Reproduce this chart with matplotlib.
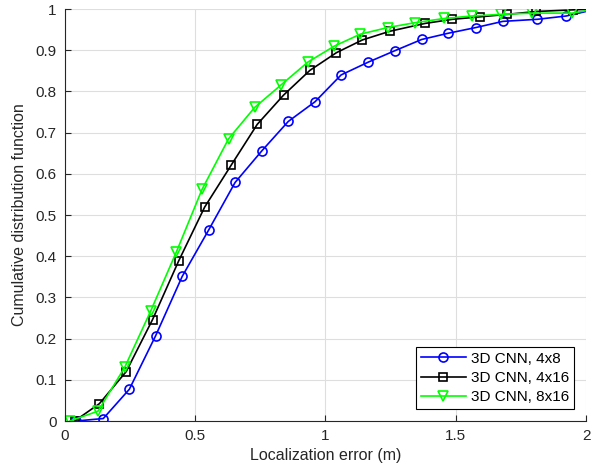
import matplotlib
matplotlib.use("Agg")
import matplotlib.pyplot as plt

plt.rcParams['font.family'] = ['Liberation Sans', 'DejaVu Sans']

# ------------------------
# data (last point of each line has no marker)
# ------------------------
x_4x8 = [0.042, 0.147, 0.247, 0.348, 0.450, 0.551, 0.653, 0.756, 0.857, 0.960,
         1.060, 1.164, 1.267, 1.369, 1.470, 1.577, 1.681, 1.813, 1.924, 2.0]
y_4x8 = [0.0, 0.006, 0.077, 0.207, 0.351, 0.463, 0.579, 0.656, 0.727, 0.775,
         0.840, 0.871, 0.899, 0.926, 0.941, 0.955, 0.970, 0.975, 0.983, 0.994]

x_4x16 = [0.037, 0.132, 0.235, 0.336, 0.436, 0.536, 0.638, 0.738, 0.839, 0.940,
          1.042, 1.142, 1.247, 1.382, 1.487, 1.593, 1.697, 1.809, 1.952, 2.0]
y_4x16 = [0.0, 0.042, 0.120, 0.246, 0.388, 0.519, 0.621, 0.720, 0.791, 0.851,
          0.894, 0.925, 0.946, 0.965, 0.975, 0.981, 0.987, 0.994, 0.998, 0.999]

x_8x16 = [0.019, 0.127, 0.229, 0.329, 0.428, 0.526, 0.628, 0.728, 0.830, 0.932,
          1.034, 1.134, 1.239, 1.345, 1.456, 1.561, 1.675, 1.793, 1.947, 2.0]
y_8x16 = [0.0, 0.024, 0.130, 0.267, 0.411, 0.562, 0.685, 0.761, 0.816, 0.871,
          0.910, 0.939, 0.955, 0.967, 0.977, 0.983, 0.987, 0.990, 0.990, 0.996]

labels = ["3D CNN, 4x8", "3D CNN, 4x16", "3D CNN, 8x16"]

# ------------------------
# plot
# ------------------------
fig = plt.figure(figsize=(6.05, 4.74), dpi=100)
ax = fig.add_axes([0.1074, 0.1118, 0.8612, 0.8692])

ax.plot(x_4x8, y_4x8, color="#0000ff", lw=1.2, marker="o", ms=6.5, mfc="none",
        mew=1.2, markevery=list(range(len(x_4x8) - 1)), label=labels[0])
ax.plot(x_4x16, y_4x16, color="black", lw=1.2, marker="s", ms=5.5, mfc="none",
        mew=1.2, markevery=list(range(len(x_4x16) - 1)), label=labels[1])
ax.plot(x_8x16, y_8x16, color="#00ff00", lw=1.2, marker="v", ms=7, mfc="none",
        mew=1.2, markevery=list(range(len(x_8x16) - 1)), label=labels[2])

ax.set_xlim(0, 2)
ax.set_ylim(0, 1)
ax.set_xticks([0, 0.5, 1, 1.5, 2])
ax.set_xticklabels(["0", "0.5", "1", "1.5", "2"])
ax.set_yticks([i / 10 for i in range(11)])
ax.set_yticklabels(["0"] + [f"{i/10:.1f}" for i in range(1, 10)] + ["1"])

ax.grid(True, color="#dedede", lw=0.8)
ax.set_axisbelow(True)
for s in ["top", "right"]:
    ax.spines[s].set_visible(False)
for s in ["left", "bottom"]:
    ax.spines[s].set_color("#262626")
    ax.spines[s].set_linewidth(0.8)
ax.tick_params(direction="in", length=4, colors="#262626", labelsize=11, pad=6)

ax.set_xlabel("Localization error (m)", fontsize=11.5, color="#262626", labelpad=3)
ax.set_ylabel("Cumulative distribution function", fontsize=11.5, color="#262626", labelpad=6)

leg = ax.legend(loc="lower right", fontsize=11, fancybox=False, framealpha=1,
                edgecolor="black", borderaxespad=0.8, handlelength=3.0,
                handletextpad=0.3, labelspacing=0.35, borderpad=0.3)
leg.get_frame().set_linewidth(0.8)

fig.savefig("out.png", dpi=100)
